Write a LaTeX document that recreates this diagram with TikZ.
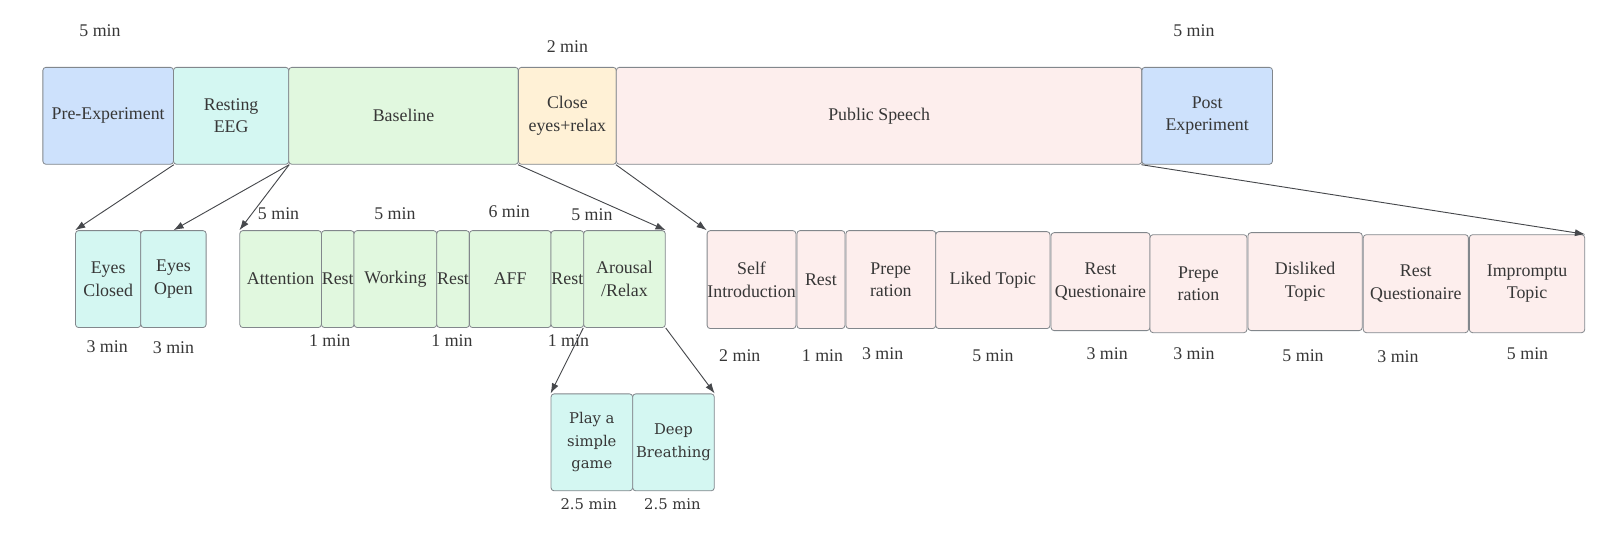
\documentclass[tikz,border=0pt]{standalone}
\usepackage{fontspec}
\setmainfont{Liberation Serif}
\newfontfamily\lowfont{DejaVu Serif}
\usetikzlibrary{arrows.meta}
\definecolor{bluefill}{RGB}{205,225,252}
\definecolor{cyanfill}{RGB}{212,247,242}
\definecolor{greenfill}{RGB}{225,248,223}
\definecolor{orangefill}{RGB}{255,241,214}
\definecolor{pinkfill}{RGB}{253,238,237}
\definecolor{boxline}{RGB}{130,135,140}
\definecolor{txt}{RGB}{55,55,55}
\definecolor{arrowline}{RGB}{70,72,76}

\begin{document}
\begin{tikzpicture}[x=1pt,y=-1pt,
  box/.style={draw=boxline,line width=0.8pt,rounded corners=3pt,inner sep=0pt,
    align=center,text=txt,font=\fontsize{17.5}{22}\selectfont},
  wh/.style 2 args={minimum width=#1pt,minimum height=#2pt},
  dur/.style={text=txt,inner sep=0pt,font=\fontsize{17.5}{22}\selectfont},
  lowbox/.style={box,font=\lowfont\fontsize{14.5}{22}\selectfont},
  lowdur/.style={dur,font=\lowfont\fontsize{14.5}{22}\selectfont},
  link/.style={draw=arrowline,line width=0.9pt,-{Latex[length=10pt,width=7pt]}}]
\useasboundingbox (0,0) rectangle (1568,541);

\node[box,fill=bluefill,wh={128}{95}] (pre) at (106,113.5) {Pre-Experiment};
\node[box,fill=cyanfill,wh={113}{95}] (resting) at (226.5,113.5) {Resting\\EEG};
\node[box,fill=greenfill,wh={225}{95}] (baseline) at (395.5,113.5) {Baseline};
\node[box,fill=orangefill,wh={96}{95}] (close) at (556,113.5) {Close\\eyes+relax};
\node[box,fill=pinkfill,wh={515}{95}] (speech) at (861.5,113.5) {Public Speech};
\node[box,fill=bluefill,wh={128}{95}] (post) at (1183,113.5) {Post\\Experiment};

\node[dur] (dpre) at (98,30) {5 min};
\node[dur] (dclose) at (556,46) {2 min};
\node[dur] (dpost) at (1170,30) {5 min};

\node[box,fill=cyanfill,wh={64}{95}] (closed) at (106,273.5) {Eyes\\Closed};
\node[box,fill=cyanfill,wh={64}{95}] (open) at (170,273.5) {Eyes\\Open};
\node[dur] (dclosed) at (105,340) {3 min};
\node[dur] (dopen) at (170,341) {3 min};

\node[box,fill=greenfill,wh={80}{95}] (attention) at (275,273.5) {Attention};
\node[box,fill=greenfill,wh={32}{95}] (resta) at (331,273.5) {Rest};
\node[box,fill=greenfill,wh={81}{95}] (working) at (387.5,273.5) {Working};
\node[box,fill=greenfill,wh={32}{95}] (restb) at (444,273.5) {Rest};
\node[box,fill=greenfill,wh={80}{95}] (aff) at (500,273.5) {AFF};
\node[box,fill=greenfill,wh={32}{95}] (restc) at (556,273.5) {Rest};
\node[box,fill=greenfill,wh={80}{95}] (arousal) at (612,273.5) {Arousal\\/Relax};
\node[dur] (dattention) at (273,209) {5 min};
\node[dur] (dworking) at (387,209) {5 min};
\node[dur] (daff) at (499,207) {6 min};
\node[dur] (darousal) at (580,210) {5 min};
\node[dur] (dresta) at (323,334) {1 min};
\node[dur] (drestb) at (443,334) {1 min};
\node[dur] (drestc) at (557,334) {1 min};

\node[lowbox,fill=cyanfill,wh={80}{95}] (game) at (580,433.5) {Play a\\simple\\game};
\node[lowbox,fill=cyanfill,wh={80}{95}] (breathing) at (660,433.5) {Deep\\Breathing};
\node[lowdur] (dgame) at (577,494) {2.5 min};
\node[lowdur] (dbreathing) at (659,494) {2.5 min};

\node[box,fill=pinkfill,wh={87}{96}] (intro) at (736.5,274) {Self\\Introduction};
\node[box,fill=pinkfill,wh={47}{96}] (restd) at (804.5,274) {Rest};
\node[box,fill=pinkfill,wh={88}{96}] (prepa) at (873,274) {Prepe\\ration};
\node[box,fill=pinkfill,wh={112}{95}] (liked) at (973,274.5) {Liked Topic};
\node[box,fill=pinkfill,wh={97}{96}] (questa) at (1078.5,276) {Rest\\Questionaire};
\node[box,fill=pinkfill,wh={95}{96}] (prepb) at (1174.5,278) {Prepe\\ration};
\node[box,fill=pinkfill,wh={112}{96}] (disliked) at (1279,276) {Disliked\\Topic};
\node[box,fill=pinkfill,wh={103}{96}] (questb) at (1387.5,278) {Rest\\Questionaire};
\node[box,fill=pinkfill,wh={113}{96}] (impromptu) at (1496.5,278) {Impromptu\\Topic};
\node[dur] (dintro) at (725,348) {2 min};
\node[dur] (drestd) at (806,348) {1 min};
\node[dur] (dprepa) at (865,347) {3 min};
\node[dur] (dliked) at (973,349) {5 min};
\node[dur] (dquesta) at (1085,347) {3 min};
\node[dur] (dprepb) at (1170,347) {3 min};
\node[dur] (ddisliked) at (1277,349) {5 min};
\node[dur] (dquestb) at (1370,350) {3 min};
\node[dur] (dimpromptu) at (1497,347) {5 min};

\draw[link] (pre.south east) -- (closed.north west);
\draw[link] (resting.south east) -- (open.north);
\draw[link] (resting.south east) -- (attention.north west);
\draw[link] (close.south west) -- (arousal.north east);
\draw[link] (speech.south west) -- (intro.north west);
\draw[link] (post.south west) -- (impromptu.north east);
\draw[link] (arousal.south west) -- (game.north west);
\draw[link] (arousal.south east) -- (breathing.north east);
\end{tikzpicture}
\end{document}
